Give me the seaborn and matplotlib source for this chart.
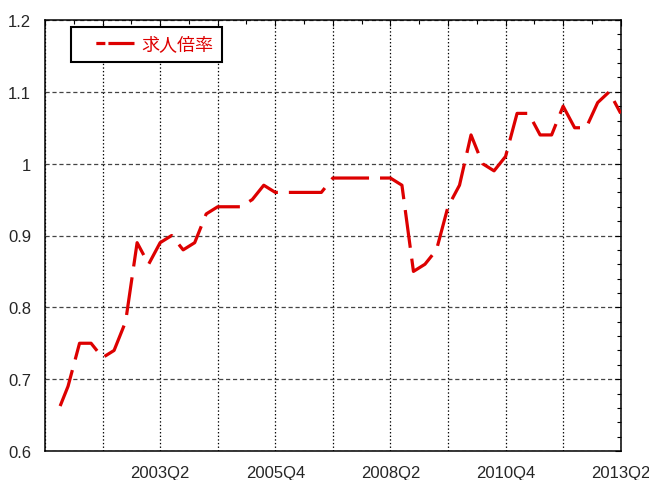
import matplotlib
matplotlib.use("Agg")
import matplotlib.pyplot as plt
from matplotlib.lines import Line2D
from matplotlib.ticker import FuncFormatter, MultipleLocator
import pandas as pd
import seaborn as sns

# Quarterly job-offer ratio, 2001Q1 - 2013Q2
quarters = [f"{y}Q{q}" for y in range(2001, 2014) for q in range(1, 5)][:50]
ratio = [
    0.65, 0.69, 0.75, 0.75, 0.73, 0.74, 0.78, 0.89, 0.86, 0.89,
    0.90, 0.88, 0.89, 0.93, 0.94, 0.94, 0.94, 0.95, 0.97, 0.96,
    0.96, 0.96, 0.96, 0.96, 0.98, 0.98, 0.98, 0.98, 0.98, 0.98,
    0.97, 0.85, 0.86, 0.88, 0.94, 0.97, 1.04, 1.00, 0.99, 1.01,
    1.07, 1.07, 1.04, 1.04, 1.08, 1.05, 1.05, 1.085, 1.10, 1.07,
]
tick_labels = ["2003Q2", "2005Q4", "2008Q2", "2010Q4", "2013Q2"]
series_name = "求人倍率"


def qpos(label):
    """Quarter position counted from 2000Q4."""
    year, q = label.split("Q")
    return (int(year) - 2000) * 4 + int(q) - 4


sns.set_style("white")
plt.rcParams["font.family"] = ["Liberation Sans", "DejaVu Sans"]
plt.rcParams["lines.scale_dashes"] = False

RED = "#dd0000"

df = pd.DataFrame({"pos": [qpos(q) for q in quarters], "ratio": ratio})

fig = plt.figure(figsize=(6.49, 4.81), dpi=100)
ax = fig.add_axes([45 / 649, 29 / 481, 575.7 / 649, 431 / 481])

sns.lineplot(
    data=df, x="pos", y="ratio", ax=ax, color=RED, linewidth=2.3,
    linestyle=(28.3, (27.4, 7.9)), legend=False, zorder=3,
)

ax.set_xlim(0, 50)
ax.set_ylim(0.6, 1.2)
ax.set_xlabel("")
ax.set_ylabel("")

# x: grid every 5 quarters, labels every 10
ax.xaxis.set_major_locator(MultipleLocator(5))
ax.xaxis.set_minor_locator(MultipleLocator(2.5))
label_map = {qpos(t): t for t in tick_labels}
ax.xaxis.set_major_formatter(
    FuncFormatter(lambda v, p: label_map.get(int(round(v)), ""))
)
ax.yaxis.set_major_locator(MultipleLocator(0.1))
ax.yaxis.set_minor_locator(MultipleLocator(0.02))
ax.yaxis.set_major_formatter(FuncFormatter(lambda v, p: f"{v:g}"))

ax.grid(axis="x", which="major", linestyle=(0, (1.0, 1.6)), color="black",
        linewidth=0.9)
ax.grid(axis="y", which="major", linestyle=(0, (3.0, 2.0)), color="#444444",
        linewidth=0.9)

ax.tick_params(which="both", direction="in", top=True, right=True,
               color="black", width=0.8)
ax.tick_params(which="major", length=4.5, labelsize=12, pad=10)
ax.tick_params(which="minor", length=3)
for s in ax.spines.values():
    s.set_color("black")
    s.set_linewidth(1.1)

handle = Line2D([], [], color=RED, linewidth=2.3,
                linestyle=(28.1, (6.5, 2.2, 19.4, 11.4)))
leg = ax.legend(
    [handle], [series_name], loc="upper left",
    bbox_to_anchor=(0.0452, 0.9845), borderaxespad=0,
    handlelength=3.02, handletextpad=0.4, borderpad=0.47,
    fancybox=False, framealpha=1, edgecolor="black",
    prop={"family": ["Noto Sans CJK JP", "DejaVu Sans"], "size": 13},
    labelcolor=RED,
)
leg.get_frame().set_linewidth(1.5)

fig.savefig("out.png", dpi=100)
